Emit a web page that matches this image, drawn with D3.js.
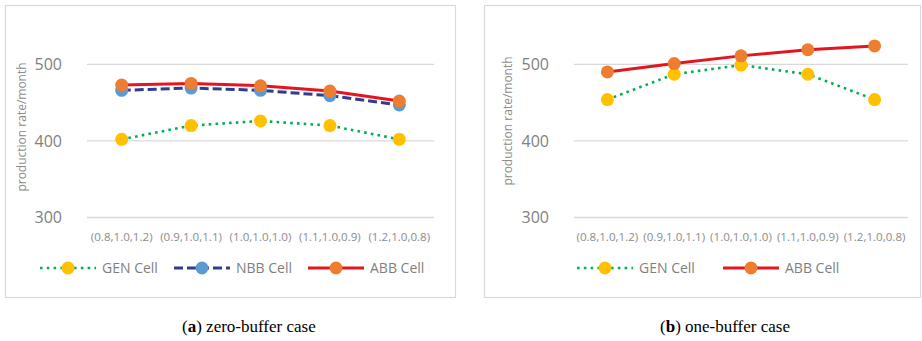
<!DOCTYPE html>
<html>
<head>
<meta charset="utf-8">
<script src="https://cdn.jsdelivr.net/npm/d3@7"></script>
<style>
  body { margin: 0; background: #fff; }
</style>
</head>
<body>
<div id="chart"></div>
<script>
// Category labels (shared by both panels).
let categories = ["(0.8,1.0,1.2)", "(0.9,1.0,1.1)", "(1.0,1.0,1.0)", "(1.1,1.0,0.9)", "(1.2,1.0,0.8)"];
let yTicks = [300, 400, 500];

// Zero-buffer case values.
let genZero = [402, 420, 426, 420, 402];
let nbbZero = [466, 469, 466, 459, 447];
let abbZero = [473, 475, 472, 465, 452];

// One-buffer case values.
let genOne = [454, 487, 499, 487, 454];
let abbOne = [490, 501, 511, 519, 524];

// Line / marker styles per series.
let styles = {
    gen: {name: "GEN Cell", line: "#00b050", marker: "#ffc000", width: 2.6, dash: "2.6 4.2"},
    nbb: {name: "NBB Cell", line: "#2e3d92", marker: "#5b9bd5", width: 3, dash: "9 4"},
    abb: {name: "ABB Cell", line: "#e3151f", marker: "#ed7d31", width: 3, dash: null}
};

let sans = '"Open Sans", "Noto Sans", sans-serif';
let serif = '"Liberation Serif", "DejaVu Serif", serif';

let svg = d3.select("#chart")
            .append("svg")
            .attr("width", 922)
            .attr("height", 341)
            .attr("font-family", sans);

// Draws one panel: frame, gridlines, axis labels, series and legend.
function drawPanel(p) {
    let g = svg.append("g");

    // Outer frame.
    g.append("rect")
     .attr("x", p.frame[0] + 0.5)
     .attr("y", p.frame[1] + 0.5)
     .attr("width", p.frame[2])
     .attr("height", p.frame[3])
     .attr("fill", "#fff")
     .attr("stroke", "#d9d9d9")
     .attr("stroke-width", 1.2);

    let x = d3.scaleBand()
              .domain(categories)
              .range(p.xRange);

    let y = d3.scaleLinear()
              .domain([300, 500])
              .range([217.5, 64.3]);

    // Gridlines.
    g.selectAll(".grid")
     .data(yTicks)
     .enter()
     .append("line")
     .attr("x1", p.xRange[0])
     .attr("x2", p.xRange[1])
     .attr("y1", function(d) { return y(d); })
     .attr("y2", function(d) { return y(d); })
     .attr("stroke", "#d9d9d9")
     .attr("stroke-width", 1.3);

    // Y tick labels.
    g.selectAll(".ytick")
     .data(yTicks)
     .enter()
     .append("text")
     .attr("x", p.xRange[0] - 25)
     .attr("y", function(d) { return y(d); })
     .attr("dy", "0.36em")
     .attr("text-anchor", "end")
     .attr("fill", "#7f7f7f")
     .style("font-size", "16px")
     .text(function(d) { return d; });

    // X category labels.
    g.selectAll(".xtick")
     .data(categories)
     .enter()
     .append("text")
     .attr("x", function(d) { return x(d) + x.bandwidth() / 2; })
     .attr("y", 241)
     .attr("text-anchor", "middle")
     .attr("fill", "#8c8c8c")
     .style("font-size", "11.6px")
     .text(function(d) { return d; });

    // Y axis title.
    g.append("text")
     .attr("transform", "translate(" + p.titleX + "," + p.titleY + ") rotate(-90)")
     .attr("text-anchor", "middle")
     .attr("fill", "#8c8c8c")
     .style("font-size", "12px")
     .text("production rate/month");

    // Series lines and markers.
    p.series.forEach(function(s) {
        let st = styles[s.key];
        g.append("path")
         .datum(s.values)
         .attr("fill", "none")
         .attr("stroke", st.line)
         .attr("stroke-width", st.width)
         .attr("stroke-dasharray", st.dash)
         .attr("d", d3.line()
              .x(function(d, i) { return x(categories[i]) + x.bandwidth() / 2; })
              .y(function(d) { return y(d); }));

        g.append("g")
         .selectAll("circle")
         .data(s.values)
         .enter()
         .append("circle")
         .attr("cx", function(d, i) { return x(categories[i]) + x.bandwidth() / 2; })
         .attr("cy", function(d) { return y(d); })
         .attr("r", 6.5)
         .attr("fill", st.marker);
    });

    // Legend.
    p.series.forEach(function(s, i) {
        let st = styles[s.key];
        let lx = p.legendX[i];
        g.append("line")
         .attr("x1", lx)
         .attr("x2", lx + 56)
         .attr("y1", 268)
         .attr("y2", 268)
         .attr("stroke", st.line)
         .attr("stroke-width", st.width)
         .attr("stroke-dasharray", st.dash);
        g.append("circle")
         .attr("cx", lx + 28)
         .attr("cy", 268)
         .attr("r", 6.5)
         .attr("fill", st.marker);
        g.append("text")
         .attr("x", lx + 62)
         .attr("y", 268)
         .attr("dy", "0.36em")
         .attr("fill", "#7f7f7f")
         .style("font-size", "14px")
         .text(st.name);
    });

    // Caption below the panel.
    let cap = svg.append("text")
                 .attr("x", p.captionX)
                 .attr("y", 332)
                 .attr("fill", "#000")
                 .attr("font-family", serif)
                 .style("font-size", "17px");
    cap.append("tspan").text("(");
    cap.append("tspan").style("font-weight", "bold").text(p.letter);
    cap.append("tspan").text(") " + p.caption);
}

drawPanel({
    frame: [5, 5, 450, 292],
    xRange: [87, 434],
    titleX: 26, titleY: 127,
    legendX: [40, 174, 308],
    captionX: 182,
    letter: "a", caption: "zero-buffer case",
    series: [
        {key: "gen", values: genZero},
        {key: "nbb", values: nbbZero},
        {key: "abb", values: abbZero}
    ]
});

drawPanel({
    frame: [484, 5, 436, 292],
    xRange: [574, 908],
    titleX: 512, titleY: 121,
    legendX: [577, 723],
    captionX: 660,
    letter: "b", caption: "one-buffer case",
    series: [
        {key: "gen", values: genOne},
        {key: "abb", values: abbOne}
    ]
});
</script>
</body>
</html>
